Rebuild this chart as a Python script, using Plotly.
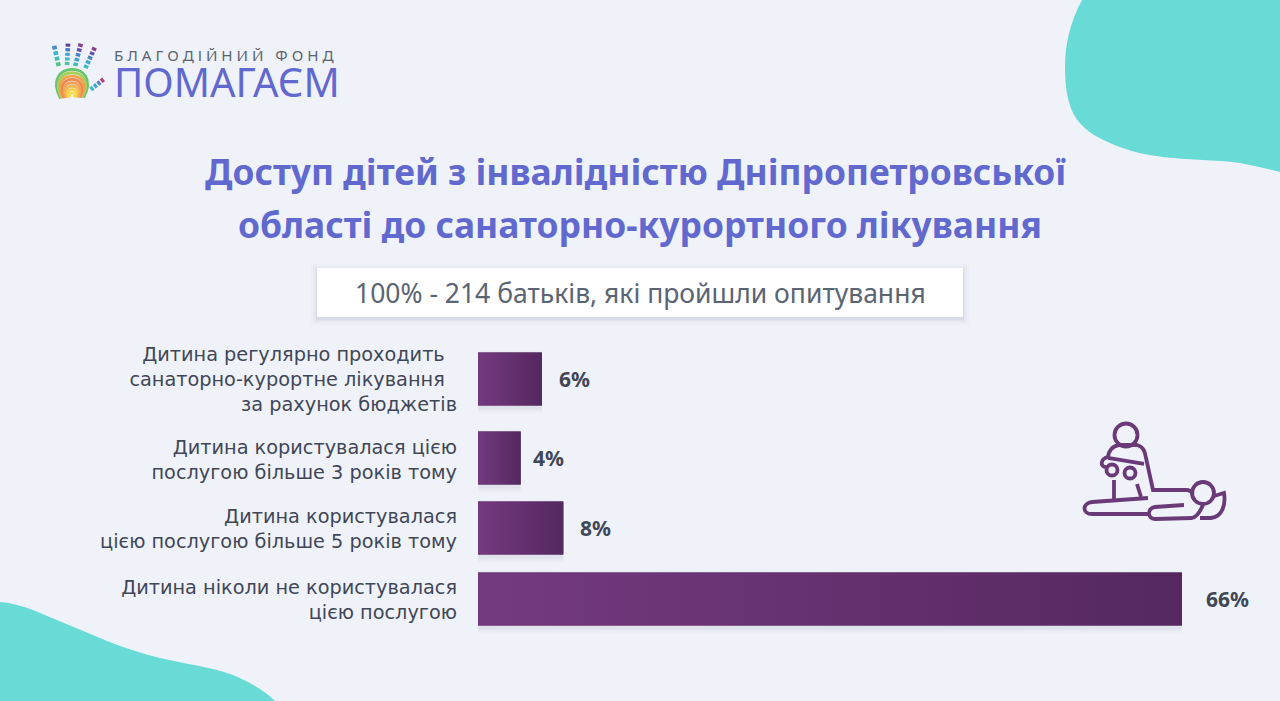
import plotly.graph_objects as go

W, H = 1280, 701
categories = [
    "Дитина регулярно проходить \u00a0<br>санаторно-курортне лікування \u00a0<br>за рахунок бюджетів",
    "Дитина користувалася цією<br>послугою більше 3 років тому",
    "Дитина користувалася<br>цією послугою більше 5 років тому",
    "Дитина ніколи не користувалася<br>цією послугою",
]
values = [6, 4, 8, 66]
row_slots = [379, 458, 528, 599]
tick_slots = [379, 460, 529, 600]
label_gaps = [15, 10, 15, 22]
TEXT = "#3f4756"
FONT = "Noto Sans"
LABEL_FONT = "DejaVu Sans"
PURPLE_L, PURPLE_D = "#743a80", "#55285f"
TEAL = "#69dbd6"
BG = "#f0f2fa"
HALF = 26.5


def X(x):
    return x / W


def Y(y):
    return 1 - y / H


def P(*cmds):
    out = []
    for c in cmds:
        if isinstance(c, str):
            out.append(c)
        else:
            out.append(f"{X(c[0]):.5f},{Y(c[1]):.5f}")
    return " ".join(out)


shapes = []


def add_path(path, fill=None, line=None, width=0, layer="below"):
    shapes.append(dict(type="path", xref="paper", yref="paper", path=path, layer=layer,
                       fillcolor=fill or "rgba(0,0,0,0)",
                       line=dict(color=line or "rgba(0,0,0,0)", width=width)))


def add_seg(x0, y0, x1, y1, color, width, layer="above"):
    add_path(P("M", (x0, y0), "L", (x1, y1)), line=color, width=width, layer=layer)


# background blobs
add_path(P("M", (1082, 0), "C", (1070, 22), (1065, 45), (1065, 67), "C", (1065, 85), (1067, 100), (1073, 113),
           "C", (1082, 130), (1095, 136), (1110, 143), "C", (1130, 152), (1150, 156), (1173, 158),
           "C", (1195, 160), (1220, 160), (1240, 163), "C", (1255, 166), (1268, 169), (1280, 172), "L", (1280, 0), "Z"), fill=TEAL)
add_path(P("M", (0, 602), "C", (12, 603), (23, 606), (33, 610), "C", (55, 619), (78, 629), (100, 638),
           "C", (118, 646), (140, 653), (160, 658), "C", (185, 664), (212, 667), (233, 675),
           "C", (250, 682), (265, 691), (275, 701), "L", (0, 701), "Z"), fill=TEAL)

# subtitle card with soft shadow
for grow, alpha in [(6, .015), (4, .025), (2, .035), (1, .05)]:
    shapes.append(dict(type="rect", xref="paper", yref="paper", layer="below", line_width=0,
                       x0=X(317 - grow), x1=X(963 + grow), y0=Y(268 - grow + 2), y1=Y(317 + grow + 2),
                       fillcolor=f"rgba(60,60,90,{alpha})"))
shapes.append(dict(type="rect", xref="paper", yref="paper", layer="below", line_width=0,
                   x0=X(317), x1=X(963), y0=Y(268), y1=Y(317), fillcolor="white"))

# logo: fingers
fingers = [
    ((54, 45), (59, 67), ["#4a8fd0", "#36b7c9", "#3cc0b0", "#55c28a"]),
    ((68, 43), (67, 66), ["#5b3f9c", "#4a78c8", "#3fa6d0", "#3cbcc0", "#4fc39a"]),
    ((81, 43), (75, 67), ["#8a3f8f", "#6a4fb0", "#4a82c8", "#3fa6d0", "#3cbcc0"]),
    ((95, 47), (85, 69), ["#8a3f8f", "#6a4fb0", "#4a82c8", "#3fa6d0", "#3cbcc0"]),
    ((104, 79), (90, 90), ["#b03f78", "#5a7fc8", "#3fa6d0", "#3cbcc0"]),
]
for a, b, cols in fingers:
    n = len(cols)
    for i, c in enumerate(cols):
        t0 = (i + .12) / n
        t1 = (i + .8) / n
        add_seg(a[0] + (b[0] - a[0]) * t0, a[1] + (b[1] - a[1]) * t0,
                a[0] + (b[0] - a[0]) * t1, a[1] + (b[1] - a[1]) * t1, c, 4.6)
# logo: palm rainbow arcs
arcs = [(29, "#68c46f"), (25.5, "#a7cf58"), (22, "#f0a24e"), (18.5, "#ee8a4d"), (15, "#f2a05a"),
        (11.5, "#f4b84f"), (8, "#f4d04f"), (4.5, "#f4e04f")]
for r, c in arcs:
    cx, cy = 72, 97
    add_path(P("M", (cx - r * .4, cy + r * .05), "C", (cx - r * 1.1, cy - r * 1.28), (cx + r * 1.1, cy - r * 1.28), (cx + r * .4, cy + .02 * r)),
             line=c, width=2.8, layer="above")

# massage icon
IC = "#6a3a78"
SW = 3.8


def circle(cx, cy, r, width=SW):
    k = r * .5523
    add_path(P("M", (cx - r, cy), "C", (cx - r, cy - k), (cx - k, cy - r), (cx, cy - r), "C", (cx + k, cy - r), (cx + r, cy - k), (cx + r, cy),
               "C", (cx + r, cy + k), (cx + k, cy + r), (cx, cy + r), "C", (cx - k, cy + r), (cx - r, cy + k), (cx - r, cy)),
             line=IC, width=width, layer="above")


circle(1126, 435, 11.5)
circle(1112, 470, 5.5)
circle(1130, 473, 5.5)
circle(1203, 493, 11)
add_path(P("M", (1108, 458), "C", (1108, 452), (1112, 446), (1119, 445), "L", (1137, 445), "C", (1144, 447), (1145, 452), (1146, 458),
           "L", (1153, 490), "L", (1186, 490), "C", (1190, 490), (1192, 492), (1193, 494)), line=IC, width=SW, layer="above")
add_path(P("M", (1108, 457), "C", (1100, 459), (1100, 467), (1106, 467)), line=IC, width=SW, layer="above")
add_seg(1108, 458, 1144, 464, IC, SW)
add_seg(1114, 480, 1114, 499, IC, SW)
add_seg(1137, 484, 1141, 497, IC, SW)
add_path(P("M", (1148, 498), "L", (1092, 502), "C", (1082, 503), (1082, 514), (1092, 514), "L", (1148, 514)), line=IC, width=SW, layer="above")
add_path(P("M", (1184, 505), "L", (1155, 507), "C", (1147, 508), (1147, 519), (1155, 519), "L", (1192, 518), "C", (1197, 517), (1200, 512), (1203, 505)),
         line=IC, width=SW, layer="above")
add_path(P("M", (1214, 496), "L", (1224, 493), "C", (1226, 505), (1222, 517), (1211, 518), "L", (1200, 518)), line=IC, width=SW, layer="above")

# soft shadows under bars
for v, r in zip(values, row_slots):
    for grow, alpha in [(5, .015), (3, .025), (1, .04)]:
        shapes.append(dict(type="rect", xref="x", yref="y", layer="below", line_width=0, x0=0, x1=v,
                           y0=r - HALF - grow + 3, y1=r + HALF + grow + 3, fillcolor=f"rgba(60,40,80,{alpha})"))

fig = go.Figure()
fig.add_trace(go.Bar(y=row_slots, x=values, orientation="h", width=2 * HALF, marker=dict(color=PURPLE_D, line_width=0), showlegend=False))
for v, r in zip(values, row_slots):
    fig.add_trace(go.Scatter(x=[0, v, v, 0, 0], y=[r - HALF, r - HALF, r + HALF, r + HALF, r - HALF], mode="none", fill="toself",
                             fillgradient=dict(type="horizontal", colorscale=[[0, PURPLE_L], [1, PURPLE_D]]), showlegend=False, hoverinfo="skip"))

annotations = [dict(x=v, y=r, xref="x", yref="y", text=f"<b>{v}%</b>", showarrow=False, xanchor="left", xshift=g,
                    font=dict(family=FONT, size=21, color=TEXT)) for v, r, g in zip(values, row_slots, label_gaps)]


def text(x, y, s, size, color, anchor="center", **kw):
    annotations.append(dict(x=X(x), y=Y(y), xref="paper", yref="paper", text=s, showarrow=False, xanchor=anchor, yanchor="middle",
                            font=dict(family=FONT, size=size, color=color), **kw))


text(635, 171, "<b>Доступ дітей з інвалідністю Дніпропетровської</b>", 35.4, "#6169cf")
text(640, 224, "<b>області до санаторно-курортного лікування</b>", 35.4, "#6169cf")
text(640, 293, "100% - 214 батьків, які пройшли опитування", 26.5, "#5a6472")
text(112, 77,
     "<span style='font-size:15.2px;color:#5a6472'>Б Л А Г О Д І Й Н И Й &nbsp;&nbsp;Ф О Н Д</span><br>"
     "<span style='font-size:40px'>ПОМАГАЄМ</span>",
     28, "#6169cf", anchor="left", align="left")

fig.update_layout(
    width=W, height=H, margin=dict(l=0, r=0, t=0, b=0), autosize=False,
    paper_bgcolor=BG, plot_bgcolor="rgba(0,0,0,0)", shapes=shapes, annotations=annotations,
    xaxis=dict(domain=[X(478), X(1182)], range=[0, 66], visible=False, fixedrange=True),
    yaxis=dict(domain=[0, 1], range=[H, 0], tickmode="array", tickvals=tick_slots, ticktext=categories, ticks="",
               showgrid=False, zeroline=False, showline=False, ticklabelstandoff=20, anchor="x",
               tickfont=dict(family=LABEL_FONT, size=19.3, color=TEXT), automargin=False, fixedrange=True),
    showlegend=False,
)
fig.write_html("out.html", config=dict(displayModeBar=False),
               post_script="document.body.style.margin='0';document.documentElement.style.overflow='hidden';")
